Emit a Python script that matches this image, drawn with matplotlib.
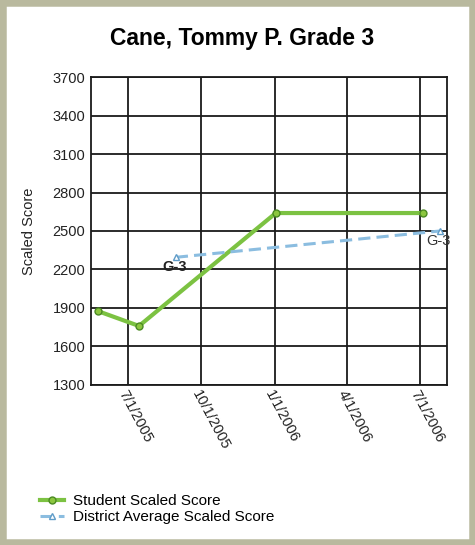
import datetime as dt

import matplotlib
matplotlib.use("Agg")
import matplotlib.pyplot as plt
from matplotlib.patches import Rectangle

plt.rcParams["font.family"] = ["Liberation Sans", "DejaVu Sans"]

student_dates = ["2005-05-25", "2005-07-15", "2006-01-02", "2006-07-05"]
student_scores = [1875, 1760, 2640, 2640]
district_dates = ["2005-08-30", "2006-07-26"]
district_scores = [2295, 2500]
district_labels = ["G-3", "G-3"]
tick_dates = ["2005-07-01", "2005-10-01", "2006-01-01", "2006-04-01", "2006-07-01"]
tick_labels = ["7/1/2005", "10/1/2005", "1/1/2006", "4/1/2006", "7/1/2006"]
y_ticks = [1300, 1600, 1900, 2200, 2500, 2800, 3100, 3400, 3700]


def to_dates(values):
    return [dt.datetime.strptime(v, "%Y-%m-%d") for v in values]


fig = plt.figure(figsize=(4.75, 5.45), dpi=100)
fig.patch.set_facecolor("white")
# khaki frame around the panel
fig.patches.append(Rectangle((0, 0), 1, 1, transform=fig.transFigure,
                             fill=False, edgecolor="#b9b99e", linewidth=9))

ax = fig.add_axes([0.1916, 0.2936, 0.7494, 0.5651])

ax.plot(to_dates(student_dates), student_scores, color="#7cc242", linewidth=3,
        marker="o", markersize=5, markerfacecolor="#8cc63f",
        markeredgecolor="#4b8a23", markeredgewidth=1,
        label="Student Scaled Score", zorder=3)
ax.plot(to_dates(district_dates), district_scores, color="#8bbde0", linewidth=2.2,
        linestyle=(0, (4, 2)), marker="^", markersize=5,
        markerfacecolor="white", markeredgecolor="#5f9cc8",
        label="District Average Scaled Score", zorder=3)

d_x = to_dates(district_dates)
ax.annotate(district_labels[0], (d_x[0], district_scores[0]), xytext=(-1, -2),
            textcoords="offset points", ha="center", va="top",
            fontsize=10.5, fontweight="bold", color="#222222", zorder=4)
ax.annotate(district_labels[1], (d_x[1], district_scores[1]), xytext=(-1, -2),
            textcoords="offset points", ha="center", va="top",
            fontsize=10.5, color="#333333", zorder=4)

ax.set_xlim(dt.datetime(2005, 5, 16), dt.datetime(2006, 8, 4))
ax.set_ylim(1300, 3700)
ax.set_yticks(y_ticks)
ax.set_xticks(to_dates(tick_dates))
ax.set_xticklabels(tick_labels, rotation=-62, ha="left", va="top",
                   rotation_mode="anchor")
ax.tick_params(axis="both", labelsize=10.5, length=0, pad=4, colors="#222222")
ax.tick_params(axis="x", pad=2)
ax.grid(True, color="#1a1a1a", linewidth=1.3)
ax.set_axisbelow(True)
for spine in ax.spines.values():
    spine.set_color("#1a1a1a")
    spine.set_linewidth(1.3)

ax.set_ylabel("Scaled Score", fontsize=10.5, color="#222222", labelpad=12)
fig.suptitle("Cane, Tommy P. Grade 3", fontsize=16.5, fontweight="bold",
             x=0.51, y=0.951)

fig.legend(loc="lower left", bbox_to_anchor=(0.055, 0.013), frameon=False,
           fontsize=11, handlelength=1.6, handletextpad=0.6, labelspacing=0.15)

fig.savefig("out.png", dpi=100)
